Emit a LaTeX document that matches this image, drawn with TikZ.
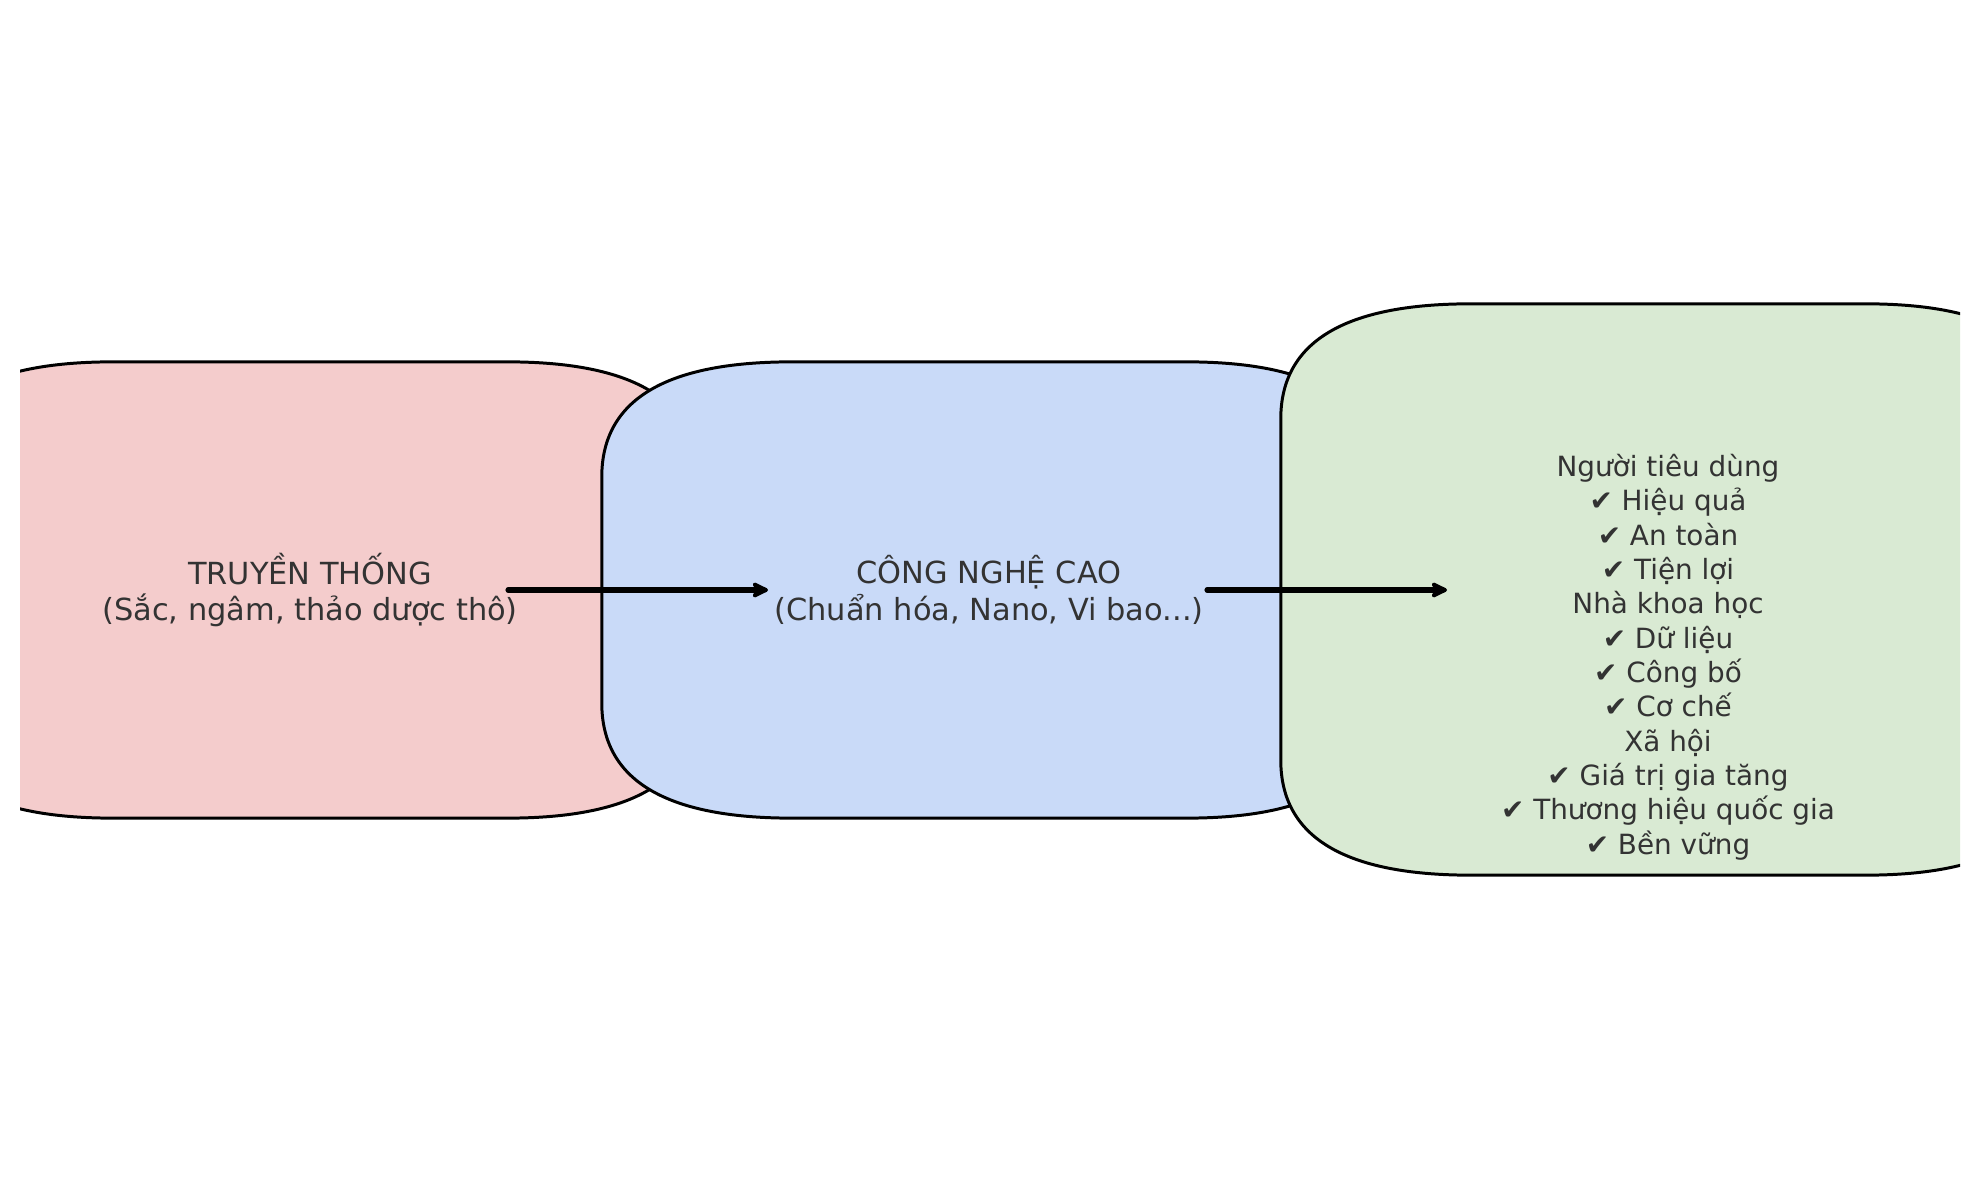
\documentclass[tikz,border=0pt]{standalone}
\usepackage{fontspec}
\setmainfont{DejaVu Sans}
\usetikzlibrary{calc,positioning,arrows.meta}
\definecolor{tradpink}{HTML}{F4CCCC}
\definecolor{techblue}{HTML}{C9DAF8}
\definecolor{resgreen}{HTML}{D9EAD3}
\definecolor{txtgray}{HTML}{333333}
\tikzset{
  boxarea/.style={inner sep=0pt,outer sep=0pt,minimum width=7.74cm},
  boxline/.style={draw=black,line width=0.85pt},
  boxtext/.style={align=center,text=txtgray,font=\fontsize{8.65pt}{10.45pt}\selectfont},
  listtext/.style={align=center,text=txtgray,font=\fontsize{7.92pt}{9.76pt}\selectfont},
  flow/.style={-{Stealth[length=5.6pt,width=5.4pt,inset=1.4pt,round]},line width=1.45pt,line cap=round}
}
% box with quadratic corners, rx=190 ry=115
\newcommand{\drawroundbox}[2]{%
\draw[boxline,fill=#2] ($(#1.north west)+(0,115)$)
  .. controls ($(#1.north west)+(0,38.3)$) and ($(#1.north west)+(63.3,0)$) .. ($(#1.north west)+(190,0)$)
  -- ($(#1.north east)+(-190,0)$)
  .. controls ($(#1.north east)+(-63.3,0)$) and ($(#1.north east)+(0,38.3)$) .. ($(#1.north east)+(0,115)$)
  -- ($(#1.south east)+(0,-115)$)
  .. controls ($(#1.south east)+(0,-38.3)$) and ($(#1.south east)+(-63.3,0)$) .. ($(#1.south east)+(-190,0)$)
  -- ($(#1.south west)+(190,0)$)
  .. controls ($(#1.south west)+(63.3,0)$) and ($(#1.south west)+(0,-38.3)$) .. ($(#1.south west)+(0,-115)$)
  -- cycle;}

\begin{document}
\begin{tikzpicture}[x=0.01cm,y=-0.01cm]
\useasboundingbox (0,0) rectangle (1979,1180);
\node (trad) at (310,590) [boxarea,minimum height=4.56cm] {};
\node (tech) at (989,590) [boxarea,minimum height=4.56cm] {};
\node (res) at (1668,589.5) [boxarea,minimum height=5.71cm] {};
\begin{scope}
\clip (20,0) rectangle (1960,1180);
\drawroundbox{trad}{tradpink}
\drawroundbox{tech}{techblue}
\drawroundbox{res}{resgreen}
\end{scope}
\node (tradtxt) at (trad.center) [boxtext] {TRUYỀN THỐNG\\(Sắc, ngâm, thảo dược thô)};
\node (techtxt) at (tech.center) [boxtext] {CÔNG NGHỆ CAO\\(Chuẩn hóa, Nano, Vi bao...)};
\node (restxt) at (1668,657) [listtext] {Người tiêu dùng\\✔ Hiệu quả\\✔ An toàn\\✔ Tiện lợi\\Nhà khoa học\\✔ Dữ liệu\\✔ Công bố\\✔ Cơ chế\\Xã hội\\✔ Giá trị gia tăng\\✔ Thương hiệu quốc gia\\✔ Bền vững};
\coordinate (a1s) at ($(trad.center)+(198,0)$);
\coordinate (a1e) at ($(tech.center)+(-221,0)$);
\coordinate (a2s) at ($(tech.center)+(218,0)$);
\coordinate (a2e) at ($(res.center)+(-221,0.5)$);
\draw[flow] (a1s) -- (a1e);
\draw[flow] (a2s) -- (a2e);
\end{tikzpicture}
\end{document}
